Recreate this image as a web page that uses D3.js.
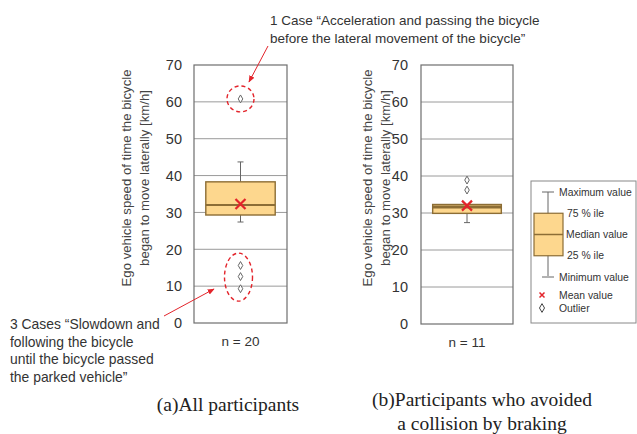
<!DOCTYPE html>
<html><head><meta charset="utf-8">
<script src="https://cdn.jsdelivr.net/npm/d3@7"></script>
<style>
body{margin:0;background:#fff;}
svg{display:block;}
text{font-family:"Liberation Sans",Arial,sans-serif;}
</style></head>
<body>
<svg id="c" width="637" height="434"></svg>
<script>
// ---- data ----
const panels = ["(a)All participants", "(b)Participants who avoided"];
const nLabels = ["n = 20", "n = 11"];
const whiskerLow = [27.4, 27.4];
const q1 = [29.3, 29.9];
const median = [32.0, 31.6];
const q3 = [38.3, 32.3];
const whiskerHigh = [43.7, 32.3];
const mean = [32.3, 32.0];
const outliersA = [60.8, 15.6, 12.6, 9.3];
const outliersB = [38.9, 36.2];
const outliers = [outliersA, outliersB];
const yTicks = [0, 10, 20, 30, 40, 50, 60, 70];
const yTitle = ["Ego vehicle speed of time the bicycle", "began to move laterally [km/h]"];
const captionA = ["(a)All participants"];
const captionB = ["(b)Participants who avoided", "a collision by braking"];
const note1 = ["1 Case \u201cAcceleration and passing the bicycle", "before the lateral movement of the bicycle\u201d"];
const note3 = ["3 Cases \u201cSlowdown and", "following the bicycle", "until the bicycle passed", "the parked vehicle\u201d"];
const legendLabels = ["Maximum value", "75 % ile", "Median value", "25 % ile", "Minimum value", "Mean value", "Outlier"];

const svg = d3.select("#c");
const boxFill = "#fdd78e", boxStroke = "#8c6d35", red = "#e3242b", grid = "#9a9a9a";

const defs = svg.append("defs");
defs.append("marker").attr("id","ah").attr("viewBox","0 0 10 10").attr("refX",9).attr("refY",5)
  .attr("markerWidth",7).attr("markerHeight",7).attr("orient","auto-start-reverse")
  .append("path").attr("d","M0,1 L10,5 L0,9 z").attr("fill",red);

const frames = [
  {x0:194, x1:287, y0:65, y1:323, tickX:182, titleX:[126,144]},
  {x0:421, x1:513, y0:65, y1:324, tickX:408, titleX:[367,385]}
];

const scales = [];
frames.forEach((f,i)=>{
  const y = d3.scaleLinear().domain([0,70]).range([f.y1,f.y0]);
  const x = d3.scaleBand().domain([nLabels[i]]).range([f.x0,f.x1]).paddingInner(0).paddingOuter(0.17);
  scales.push({x,y});
  const g = svg.append("g");
  g.selectAll("line.grid").data(yTicks.filter(t=>t>0&&t<70)).join("line")
    .attr("x1",f.x0).attr("x2",f.x1).attr("y1",d=>y(d)).attr("y2",d=>y(d))
    .attr("stroke",grid).attr("stroke-width",1);
  g.append("rect").attr("x",f.x0).attr("y",f.y0).attr("width",f.x1-f.x0).attr("height",f.y1-f.y0)
    .attr("fill","none").attr("stroke","#6e6e6e").attr("stroke-width",1.2);
  g.selectAll("text.tick").data(yTicks).join("text")
    .attr("x",f.tickX).attr("y",d=>y(d)).attr("dy","0.36em").attr("text-anchor","end")
    .attr("font-size",14.5).attr("fill","#333").text(d=>d);
  const cy = 178;
  yTitle.forEach((t,k)=>{
    g.append("text").attr("transform",`translate(${f.titleX[k]},${cy}) rotate(-90)`)
      .attr("text-anchor","middle").attr("dy","0.36em").attr("font-size",13.2).attr("fill","#444").text(t);
  });
  g.append("text").attr("x",x(nLabels[i])+x.bandwidth()/2).attr("y",f.y1+18).attr("dy","0.36em")
    .attr("text-anchor","middle").attr("font-size",13.5).attr("fill","#333").text(nLabels[i]);

  const bx = x(nLabels[i]), bw = x.bandwidth(), cx = bx+bw/2;
  g.append("line").attr("x1",cx).attr("x2",cx).attr("y1",y(whiskerHigh[i])).attr("y2",y(q3[i])).attr("stroke","#666");
  g.append("line").attr("x1",cx).attr("x2",cx).attr("y1",y(q1[i])).attr("y2",y(whiskerLow[i])).attr("stroke","#666");
  [whiskerHigh[i], whiskerLow[i]].forEach(v=>{
    g.append("line").attr("x1",cx-3).attr("x2",cx+3).attr("y1",y(v)).attr("y2",y(v)).attr("stroke","#666");
  });
  g.append("rect").attr("x",bx).attr("y",y(q3[i])).attr("width",bw).attr("height",y(q1[i])-y(q3[i]))
    .attr("fill",boxFill).attr("stroke",boxStroke).attr("stroke-width",1.4);
  g.append("line").attr("x1",bx).attr("x2",bx+bw).attr("y1",y(median[i])).attr("y2",y(median[i]))
    .attr("stroke",boxStroke).attr("stroke-width",i===1?3:2);
  const my = y(mean[i]), s = 5;
  g.append("path").attr("d",`M${cx-s},${my-s}L${cx+s},${my+s}M${cx-s},${my+s}L${cx+s},${my-s}`)
    .attr("stroke",red).attr("stroke-width",2.2);
  g.selectAll("path.out").data(outliers[i]).join("path")
    .attr("transform",d=>`translate(${cx},${y(d)})`)
    .attr("d",d3.symbol(d3.symbolDiamond,18))
    .attr("fill","#fff").attr("stroke","#666").attr("stroke-width",1);
});

const ya = scales[0].y, xa = scales[0].x;
const cxa = xa(nLabels[0]) + xa.bandwidth()/2;
svg.append("ellipse").attr("cx",cxa).attr("cy",ya(outliersA[0])).attr("rx",13.5).attr("ry",13)
  .attr("fill","none").attr("stroke",red).attr("stroke-width",1.4).attr("stroke-dasharray","4,3");
const lowOut = outliersA.slice(1);
svg.append("ellipse").attr("cx",cxa-2).attr("cy",(ya(d3.max(lowOut))+ya(d3.min(lowOut)))/2).attr("rx",14).attr("ry",24)
  .attr("fill","none").attr("stroke",red).attr("stroke-width",1.4).attr("stroke-dasharray","4,3");
svg.append("line").attr("x1",268).attr("y1",46).attr("x2",249).attr("y2",82)
  .attr("stroke",red).attr("stroke-width",1).attr("marker-end","url(#ah)");
svg.append("line").attr("x1",164).attr("y1",316).attr("x2",214).attr("y2",289)
  .attr("stroke",red).attr("stroke-width",1).attr("marker-end","url(#ah)");

note1.forEach((t,k)=>{
  svg.append("text").attr("x",270).attr("y",25+k*18).attr("font-size",13.5).attr("fill","#333").text(t);
});
note3.forEach((t,k)=>{
  svg.append("text").attr("x",10).attr("y",329+k*17.5).attr("font-size",13.9).attr("fill","#333").text(t);
});

const serif = "'Liberation Serif','Times New Roman',serif";
captionA.forEach((t,k)=>{
  svg.append("text").attr("x",228).attr("y",411+k*24).attr("text-anchor","middle")
    .attr("font-size",19.5).attr("fill","#222").style("font-family",serif).text(t);
});
captionB.forEach((t,k)=>{
  svg.append("text").attr("x",482).attr("y",406+k*24).attr("text-anchor","middle")
    .attr("font-size",19.5).attr("fill","#222").style("font-family",serif).text(t);
});

const lg = svg.append("g");
lg.append("rect").attr("x",531).attr("y",181).attr("width",105).attr("height",142)
  .attr("fill","#fff").attr("stroke","#888").attr("stroke-width",1);
const lx = 548;
const ly = d3.scalePoint().domain(legendLabels.slice(0,5)).range([192,277]);
lg.append("line").attr("x1",lx).attr("x2",lx).attr("y1",ly(legendLabels[0])).attr("y2",276).attr("stroke","#666");
lg.append("line").attr("x1",lx-6).attr("x2",lx+6).attr("y1",ly(legendLabels[0])).attr("y2",ly(legendLabels[0])).attr("stroke","#666");
lg.append("line").attr("x1",lx-6).attr("x2",lx+6).attr("y1",ly(legendLabels[4])).attr("y2",ly(legendLabels[4])).attr("stroke","#666");
lg.append("rect").attr("x",534).attr("y",ly(legendLabels[1])).attr("width",29)
  .attr("height",ly(legendLabels[3])-ly(legendLabels[1])).attr("fill",boxFill).attr("stroke",boxStroke).attr("stroke-width",1.2);
lg.append("line").attr("x1",534).attr("x2",563).attr("y1",ly(legendLabels[2])).attr("y2",ly(legendLabels[2])).attr("stroke",boxStroke).attr("stroke-width",1.5);
const labX = [559,567,566,567,559];
legendLabels.slice(0,5).forEach((t,k)=>{
  lg.append("text").attr("x",labX[k]).attr("y",ly(t)).attr("dy","0.36em").attr("font-size",10.4).attr("fill","#333").text(t);
});
const my2 = 295, oy = 308;
lg.append("path").attr("d",`M${542-2.5},${my2-2.5}L${542+2.5},${my2+2.5}M${542-2.5},${my2+2.5}L${542+2.5},${my2-2.5}`)
  .attr("stroke",red).attr("stroke-width",1.5);
lg.append("path").attr("transform",`translate(542,${oy})`).attr("d",d3.symbol(d3.symbolDiamond,22))
  .attr("fill","#fff").attr("stroke","#444").attr("stroke-width",1);
lg.append("text").attr("x",559).attr("y",my2).attr("dy","0.36em").attr("font-size",10.4).attr("fill","#333").text(legendLabels[5]);
lg.append("text").attr("x",559).attr("y",oy).attr("dy","0.36em").attr("font-size",10.4).attr("fill","#333").text(legendLabels[6]);
</script>
</body></html>
